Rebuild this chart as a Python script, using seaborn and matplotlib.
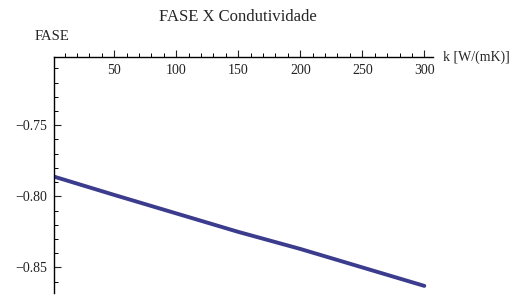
import matplotlib
matplotlib.use("Agg")
import matplotlib.pyplot as plt
import seaborn as sns
import pandas as pd
from matplotlib.ticker import MultipleLocator

# data (phase vs. thermal conductivity)
k_vals = [1, 50, 100, 150, 200, 250, 300]
fase_vals = [-0.786, -0.799, -0.812, -0.825, -0.837, -0.850, -0.863]
x_ticks = [50, 100, 150, 200, 250, 300]
y_ticks = [-0.85, -0.80, -0.75]

df = pd.DataFrame({"k": k_vals, "fase": fase_vals})

sns.set_style("white")
plt.rcParams["font.family"] = ["Liberation Serif", "DejaVu Serif"]

W, H = 513, 295
fig = plt.figure(figsize=(W / 100, H / 100), dpi=100)
# axes box in pixels: left 54, right 433, top 57, bottom 293
ax = fig.add_axes([54 / W, (H - 293) / H, (433 - 54) / W, (293 - 57) / H])

sns.lineplot(data=df, x="k", y="fase", ax=ax, color="#3c3c8e", linewidth=2.8)

ax.set_xlim(1.5, 307)
ax.set_ylim(-0.868, -0.702)

# x axis drawn at the top, ticks pointing up, labels below the line
ax.spines["bottom"].set_position(("axes", 1.0))
ax.spines["top"].set_visible(False)
ax.spines["right"].set_visible(False)
for s in ("bottom", "left"):
    ax.spines[s].set_color("black")
    ax.spines[s].set_linewidth(1.0)

ax.set_xticks(x_ticks)
ax.set_xticklabels([str(v) for v in x_ticks])
ax.xaxis.set_minor_locator(MultipleLocator(10))
ax.set_yticks(y_ticks)
ax.set_yticklabels([f"{v:.2f}".replace("-", "\u2212") for v in y_ticks])
ax.yaxis.set_minor_locator(MultipleLocator(0.01))

ax.tick_params(axis="both", which="major", direction="in", length=5, width=0.8,
               colors="#222222", labelsize=10, pad=5)
ax.tick_params(axis="both", which="minor", direction="in", length=3, width=0.7,
               colors="black")
ax.tick_params(axis="x", which="both", bottom=True, top=False)
ax.tick_params(axis="y", which="both", left=True, right=False)

ax.set_xlabel("")
ax.set_ylabel("")
fig.text(443 / W, 1 - 57 / H, "k [W/(mK)]", fontsize=10, ha="left", va="center")
fig.text(52 / W, 1 - 37 / H, "FASE", fontsize=10.5, ha="center", va="center")
fig.text(238 / W, 1 - 17 / H, "FASE X Condutividade", fontsize=12, ha="center", va="center")

fig.savefig("out.png", dpi=100)
